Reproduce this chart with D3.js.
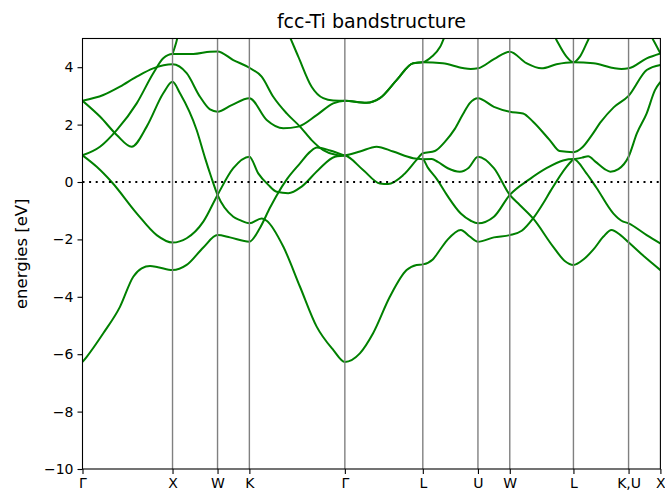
<!DOCTYPE html>
<html>
<head>
<meta charset="utf-8">
<script src="https://cdn.jsdelivr.net/npm/d3@7"></script>
<style>
  body { margin: 0; background: #fff; }
  text { font-family: "DejaVu Sans", sans-serif; }
</style>
</head>
<body>
<div id="chart"></div>
<script>
// special points along the k-path (path length, units of 2pi/a)
var kLabels = ["Γ", "X", "W", "K", "Γ", "L", "U", "W", "L", "K,U", "X"];
var kTicks = [0, 1, 1.5, 1.8536, 2.9142, 3.7802, 4.3926, 4.7462, 5.4533, 6.0657, 6.4193];
var yTicks = [-10, -8, -6, -4, -2, 0, 2, 4];
var eRange = [-10, 5];

// bands as [k, energy in eV]
var band1 = [[0,-6.27],[0.047,-6.09],[0.231,-5.27],[0.416,-4.35],[0.564,-3.30],[0.657,-3.01],[0.750,-2.93],[0.838,-2.97],[1,-3.07],
  [1.157,-2.89],[1.342,-2.28],[1.5,-1.85],[1.638,-1.93],[1.8536,-2.08],[1.971,-1.6],[2.082,-0.9],[2.160,-0.45],[2.271,0.1],
  [2.416,0.65],[2.527,1.05],[2.604,1.2],[2.749,1.1],[2.9142,0.92]];

var band2 = [[0,0.93],[0.158,0.53],[0.324,0.0],[0.602,-1.09],[0.824,-1.85],[1,-2.11],[1.157,-1.96],[1.342,-1.38],[1.5,-0.45],
  [1.675,0.48],[1.8536,0.88],[1.952,0.30],[2.064,-0.10],[2.157,-0.34],[2.286,-0.39],[2.434,-0.16],[2.619,0.42],[2.804,0.88],
  [2.9142,0.92],[3.081,1.06],[3.266,1.23],[3.451,1.06],[3.673,0.83],[3.7802,0.79],[3.836,0.5],[3.936,0.1],[4.047,-0.45],
  [4.202,-1.1],[4.313,-1.35],[4.3926,-1.44],[4.570,-1.21],[4.7462,-0.45],[4.968,0.1],[5.154,0.48],[5.338,0.75],[5.4533,0.8],
  [5.598,0.3],[5.709,-0.2],[5.898,-1.1],[5.987,-1.35],[6.0657,-1.44],[6.267,-1.85],[6.4193,-2.14]];

var band3 = [[0,0.93],[0.194,1.23],[0.380,1.81],[0.602,2.74],[0.786,3.79],[0.897,4.31],[1,4.46],[1.231,4.46],[1.416,4.54],
  [1.5,4.55],[1.675,4.25],[1.8536,3.98],[1.990,3.67],[2.119,2.97],[2.268,2.39],[2.416,1.93],[2.545,1.46],[2.674,1.11],
  [2.823,0.94],[2.9142,0.92],[3.117,0.42],[3.303,-0.05],[3.395,-0.07],[3.562,0.24],[3.711,0.77],[3.7802,1.0],[3.914,1.08],
  [4.025,1.4],[4.136,1.85],[4.224,2.35],[4.302,2.75],[4.3926,2.92],[4.570,2.62],[4.7462,2.45],[4.894,2.39],[5.005,2.10],
  [5.190,1.46],[5.30,1.08],[5.4533,1.04],[5.55,1.2],[5.65,1.6],[5.76,2.1],[5.90,2.6],[6.0657,3.0],[6.267,3.90],[6.4193,4.08]];

var band4 = [[0,2.83],[0.231,3.03],[0.416,3.32],[0.602,3.67],[0.786,3.96],[1,4.10],[1.157,3.79],[1.305,2.97],[1.416,2.53],
  [1.5,2.45],[1.657,2.68],[1.8536,2.92],[2.046,2.16],[2.230,1.87],[2.397,1.93],[2.601,2.33],[2.785,2.74],[2.9142,2.83],
  [3.155,2.76],[3.303,2.92],[3.489,3.55],[3.673,4.14],[3.7802,4.17],[4.002,4.14],[4.224,3.97],[4.313,3.94],[4.3926,3.96],
  [4.570,4.28],[4.7462,4.54],[4.931,4.14],[5.098,3.96],[5.265,4.10],[5.4533,4.17],[5.676,4.14],[5.898,3.97],[5.987,3.94],
  [6.0657,3.96],[6.267,4.31],[6.4193,4.48]];

var band5 = [[0,2.83],[0.194,2.28],[0.380,1.64],[0.546,1.23],[0.713,1.93],[0.897,3.09],[1,3.49],[1.083,3.09],[1.268,1.81],
  [1.360,0.85],[1.427,0.2],[1.5,-0.45],[1.675,-1.21],[1.749,-1.33],[1.8536,-1.44],[1.990,-1.27],[2.046,-1.35],[2.230,-2.25],
  [2.416,-3.65],[2.601,-5.04],[2.785,-5.85],[2.9142,-6.27],[3.081,-5.97],[3.228,-5.27],[3.414,-4.0],[3.600,-3.07],[3.711,-2.89],
  [3.7802,-2.87],[3.891,-2.7],[3.969,-2.37],[4.058,-2.0],[4.202,-1.67],[4.302,-1.9],[4.3926,-2.08],[4.570,-1.93],[4.7462,-1.85],
  [4.879,-1.7],[5.005,-1.27],[5.116,-0.75],[5.201,-0.3],[5.376,0.53],[5.4533,0.8]];

var band6 = [[1,4.46],[1.04,4.85],[1.075,5.3],[1.2,6.3],[1.5,7.0],[1.8536,7.0],[2.1,6.3],[2.268,5.3],[2.397,4.37],[2.545,3.32],
  [2.674,2.92],[2.785,2.84],[2.9142,2.83],[3.155,2.76],[3.303,2.92],[3.489,3.55],[3.673,4.14],[3.7802,4.17],[3.881,4.37],
  [3.973,4.71],[4.04,5.2],[4.3,6.2],[4.7462,6.6],[5.1,6.0],[5.265,4.95],[5.376,4.37],[5.4533,4.17],[5.525,4.37],[5.617,4.95],
  [5.8,6.0],[6.1,6.0],[6.340,4.95],[6.4193,4.48]];

var band7 = [[3.7802,0.79],[3.880,0.8],[3.947,0.7],[4.058,0.48],[4.191,0.36],[4.291,0.5],[4.3926,0.88],[4.570,0.48],
  [4.7462,-0.45],[4.857,-0.8],[5.005,-1.27],[5.227,-2.25],[5.357,-2.75],[5.4533,-2.89],[5.564,-2.7],[5.676,-2.35],
  [5.787,-1.9],[5.876,-1.67],[5.976,-1.85],[6.0657,-2.1],[6.24,-2.6],[6.4193,-3.07]];

var band8 = [[5.4533,0.79],[5.55,0.85],[5.617,0.9],[5.70,0.7],[5.80,0.45],[5.864,0.36],[5.953,0.45],[6.0657,0.88],[6.159,1.70],
  [6.267,2.39],[6.359,3.2],[6.4193,3.49]];

var bands = [band1, band2, band3, band4, band5, band6, band7, band8];

var width = 665, height = 498;
var margin = { top: 38.5, right: 4.6, bottom: 29, left: 82.5 };
var plotW = width - margin.left - margin.right;
var plotH = height - margin.top - margin.bottom;

var svg = d3.select("#chart").append("svg")
    .attr("width", width)
    .attr("height", height);

var x = d3.scaleLinear()
    .domain([kTicks[0], kTicks[kTicks.length - 1]])
    .range([margin.left, margin.left + plotW]);

var y = d3.scaleLinear()
    .domain(eRange)
    .range([margin.top + plotH, margin.top]);

svg.append("clipPath").attr("id", "plotclip")
  .append("rect")
    .attr("x", margin.left)
    .attr("y", margin.top)
    .attr("width", plotW)
    .attr("height", plotH);

var plot = svg.append("g").attr("clip-path", "url(#plotclip)");

var line = d3.line()
    .x(function (d) { return x(d[0]); })
    .y(function (d) { return y(d[1]); })
    .curve(d3.curveMonotoneX);

plot.selectAll("path.band")
    .data(bands)
    .enter()
    .append("path")
    .attr("class", "band")
    .attr("d", line)
    .attr("fill", "none")
    .attr("stroke", "#008000")
    .attr("stroke-width", 2);

// vertical lines at the special points
plot.selectAll("line.kline")
    .data(kTicks.slice(1, -1))
    .enter()
    .append("line")
    .attr("class", "kline")
    .attr("x1", function (d) { return x(d); })
    .attr("x2", function (d) { return x(d); })
    .attr("y1", margin.top)
    .attr("y2", margin.top + plotH)
    .attr("stroke", "#808080")
    .attr("stroke-width", 1.4);

// fermi level
plot.append("line")
    .attr("x1", margin.left)
    .attr("x2", margin.left + plotW)
    .attr("y1", y(0))
    .attr("y2", y(0))
    .attr("stroke", "#000")
    .attr("stroke-width", 2)
    .attr("stroke-dasharray", "2,4.6");

// axes
var yAxis = d3.axisLeft(y).tickValues(yTicks).tickSize(5).tickPadding(4);
var xAxis = d3.axisBottom(x).tickValues(kTicks)
    .tickFormat(function (d, i) { return kLabels[i]; })
    .tickSize(5).tickPadding(4);

var gy = svg.append("g")
    .attr("transform", "translate(" + margin.left + ",0)")
    .call(yAxis);
var gx = svg.append("g")
    .attr("transform", "translate(0," + (margin.top + plotH) + ")")
    .call(xAxis);

[gx, gy].forEach(function (g) {
    g.select(".domain").remove();
    g.selectAll("text").attr("font-size", 14).attr("fill", "#000")
        .style("font-family", "'DejaVu Sans', sans-serif");
    g.selectAll("line").attr("stroke", "#000").attr("stroke-width", 1.1);
});

svg.append("rect")
    .attr("x", margin.left)
    .attr("y", margin.top)
    .attr("width", plotW)
    .attr("height", plotH)
    .attr("fill", "none")
    .attr("stroke", "#000")
    .attr("stroke-width", 1.1);

svg.append("text")
    .attr("x", margin.left + plotW / 2)
    .attr("y", 28)
    .attr("text-anchor", "middle")
    .attr("font-size", 19)
    .text("fcc-Ti bandstructure");

svg.append("text")
    .attr("transform", "translate(27," + (margin.top + plotH / 2) + ") rotate(-90)")
    .attr("text-anchor", "middle")
    .attr("font-size", 16.5)
    .text("energies [eV]");
</script>
</body>
</html>
